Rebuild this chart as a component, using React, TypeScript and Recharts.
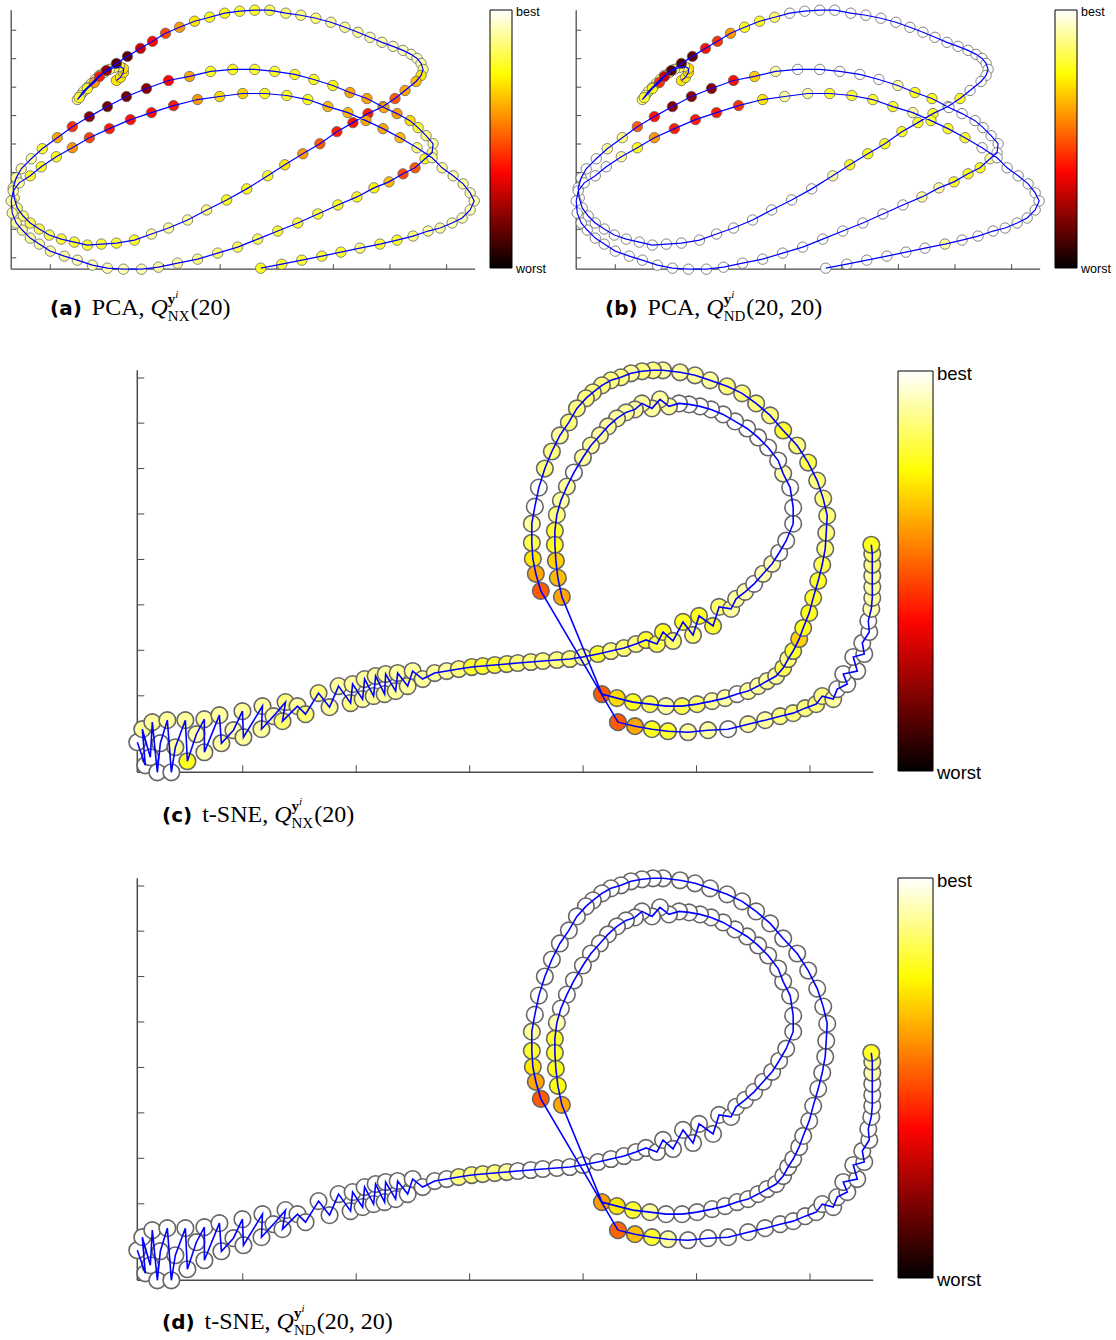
import React from "react";
import { ScatterChart, Scatter, XAxis, YAxis, BarChart, Bar } from "recharts";

// ─── PCA embedding (panels a, b): trajectory points, in plot units ───────────
const PCA_POINTS: [number, number][] = [
  [105, 188], [109, 191], [112, 196], [112, 200], [108, 202], [103, 201], [98, 199], [93, 196], [88, 193], [84, 189],
  [80, 185], [76, 181], [72, 177], [69, 173], [66, 169],
  [68, 171], [76, 180], [83, 186], [88, 192], [95, 198], [105, 205], [116, 212], [129, 220], [141, 227], [154, 235],
  [168, 241], [183, 247], [198, 251], [213, 255], [228, 257], [243, 258], [258, 258],
  [274, 255], [289, 253], [304, 250], [319, 246], [333, 241], [346, 236], [358, 231], [370, 226], [381, 222], [391, 218],
  [399, 214], [405, 210], [409, 205], [411, 199], [409, 193], [404, 187],
  [393, 178], [383, 170], [371, 162], [356, 155], [341, 146], [325, 137], [308, 125], [291, 115], [273, 104], [256, 93],
  [235, 80], [215, 69], [195, 59], [176, 49], [157, 41], [140, 35], [123, 29], [105, 26], [90, 25], [76, 24],
  [63, 27], [50, 30], [38, 34], [28, 40], [19, 46], [12, 53], [6, 61], [3, 71], [2, 81], [5, 91],
  [10, 100], [20, 110],
  [31, 120], [46, 131], [61, 142], [78, 152], [96, 162], [115, 172], [135, 180], [157, 188], [178, 192], [199, 197],
  [221, 199], [243, 199], [263, 197], [283, 194], [302, 189], [321, 183], [338, 176], [355, 170], [372, 161], [385, 155],
  [398, 148], [406, 141], [414, 133], [421, 125], [420, 116], [413, 110], [403, 101], [391, 95], [377, 87], [362, 81],
  [345, 72], [326, 64], [306, 55], [286, 46], [266, 38], [246, 30], [226, 22], [206, 16], [186, 10], [166, 6],
  [147, 2], [130, 0], [112, 0], [96, 1], [81, 4], [66, 9], [53, 13], [39, 18], [28, 25], [19, 31],
  [11, 39], [5, 46], [1, 56], [0, 68], [2, 78], [8, 86],
  [19, 93], [30, 102], [45, 112], [61, 121], [78, 131], [98, 140], [119, 149], [140, 156], [162, 163], [186, 169],
  [208, 172], [231, 175], [253, 175], [275, 173], [296, 169], [316, 162], [336, 156], [354, 148], [371, 140], [388, 131],
  [405, 121], [420, 111], [430, 101], [441, 93], [451, 85], [458, 76], [462, 68], [458, 59], [450, 51], [440, 46],
  [428, 41], [416, 38], [401, 33], [385, 29], [368, 25], [348, 21], [329, 17], [310, 13], [290, 9], [270, 5],
  [249, 1],
];

// quality per point, 0 = worst … 1 = best
const PCA_Q_NX = [
  0.72, 0.72, 0.7, 0.7, 0.8, 0.85, 0.85, 0.85, 0.85, 0.85, 0.85, 0.85, 0.85, 0.85, 0.85,
  0.8, 0.78, 0.6, 0.42, 0.2, 0.12, 0.15, 0.3, 0.38, 0.48, 0.6, 0.72, 0.78, 0.78, 0.8, 0.8, 0.82,
  0.85, 0.88, 0.88, 0.9, 0.9, 0.9, 0.92, 0.92, 0.93, 0.93, 0.93, 0.93, 0.92, 0.88, 0.72, 0.65,
  0.62, 0.5, 0.6, 0.42, 0.4, 0.42, 0.5, 0.6, 0.72, 0.78, 0.78, 0.78, 0.88, 0.9, 0.9, 0.9,
  0.8, 0.8, 0.8, 0.8, 0.8, 0.8, 0.82, 0.82, 0.82, 0.85, 0.85, 0.88, 0.88, 0.9, 0.9, 0.9,
  0.8, 0.62, 0.45, 0.2, 0.18, 0.18, 0.2, 0.38, 0.62, 0.78,
  0.78, 0.8, 0.8, 0.78, 0.78, 0.75, 0.62, 0.62, 0.62, 0.6,
  0.7, 0.8, 0.88, 0.9, 0.88, 0.78, 0.5, 0.48, 0.65, 0.75,
  0.78, 0.78, 0.8, 0.8, 0.8, 0.82, 0.82, 0.85, 0.88, 0.9,
  0.9, 0.92, 0.92, 0.92, 0.92, 0.92, 0.9, 0.9, 0.9, 0.9,
  0.9, 0.9, 0.9, 0.9, 0.9, 0.9,
  0.8, 0.78, 0.78, 0.6, 0.48, 0.42, 0.4, 0.4, 0.42, 0.6,
  0.7, 0.68, 0.78, 0.78, 0.78, 0.65, 0.65, 0.62, 0.62, 0.65,
  0.88, 0.9, 0.9, 0.9, 0.9, 0.92, 0.92, 0.92, 0.92, 0.92,
  0.9, 0.9, 0.88, 0.8, 0.8, 0.88, 0.8, 0.8, 0.8, 0.8,
  0.78,
];

const PCA_Q_ND = [
  0.72, 0.72, 0.7, 0.7, 0.85, 0.85, 0.85, 0.85, 0.85, 0.85, 0.85, 0.85, 0.85, 0.85, 0.85,
  0.8, 0.75, 0.45, 0.3, 0.12, 0.12, 0.15, 0.4, 0.45, 0.6, 0.78, 0.78, 0.85, 1, 1, 1, 1,
  1, 1, 1, 1, 1, 1, 1, 1, 1, 1, 1, 1, 1, 1, 1, 1,
  1, 0.78, 1, 0.78, 0.78, 0.78, 0.78, 0.78, 0.78, 0.9, 1, 1, 1, 1, 1, 1,
  1, 1, 1, 1, 1, 1, 1, 1, 1, 1, 1, 1, 1, 1, 1, 1,
  0.9, 0.88, 0.5, 0.4, 0.2, 0.2, 0.2, 0.4, 0.68, 0.9,
  1, 1, 1, 1, 1, 0.9, 0.78, 0.78, 1, 1,
  1, 1, 1, 1, 1, 0.9, 0.78, 0.78, 0.78, 0.9,
  0.9, 1, 1, 1, 1, 1, 1, 1, 1, 1,
  1, 1, 1, 1, 1, 1, 1, 1, 1, 1,
  1, 1, 1, 1, 1, 1,
  1, 1, 0.9, 0.78, 0.6, 0.42, 0.42, 0.42, 0.45, 0.72,
  0.9, 0.9, 0.8, 0.8, 0.8, 0.8, 0.9, 0.8, 0.8, 0.8,
  1, 1, 1, 1, 1, 1, 1, 1, 1, 1,
  1, 1, 1, 1, 0.9, 1, 1, 1, 1, 1,
  1,
];

// ─── t-SNE embedding (panels c, d) ───────────────────────────────────────────
const TSNE_POINTS: [number, number][] = [
  [0, 30], [8, 7], [5, 43], [13, 15], [15, 50], [20, 0], [23, 29], [30, 52], [34, 0], [38, 25],
  [48, 52], [50, 11], [59, 38], [67, 53], [67, 20], [82, 57], [84, 29], [96, 42], [105, 61], [106, 35],
  [125, 66], [124, 43], [136, 56], [148, 70], [145, 51], [160, 66], [168, 58], [181, 79], [192, 65], [201, 86],
  [213, 69], [215, 88], [225, 73], [227, 93], [236, 76], [238, 96], [247, 78], [248, 98], [258, 81], [260, 99],
  [270, 86], [275, 101], [285, 93], [297, 99], [309, 101], [321, 103], [334, 105], [345, 106], [357, 107], [369, 108],
  [380, 109], [393, 110], [405, 111], [419, 112], [432, 113], [445, 115], [460, 118], [473, 121], [486, 124], [498, 128],
  [508, 132], [519, 128], [525, 140], [535, 131], [545, 150], [555, 137], [561, 156], [575, 146], [581, 165], [593, 163],
  [598, 173], [607, 180], [616, 188], [625, 198], [634, 208], [641, 219], [648, 231], [655, 248], [655, 264], [652, 284],
  [645, 298], [640, 311], [630, 324], [620, 334], [609, 343], [597, 350], [585, 357], [573, 362], [562, 365], [551, 367],
  [541, 368], [531, 365], [522, 372], [514, 363], [504, 368], [497, 362], [488, 359], [479, 353], [470, 345], [462, 336],
  [453, 326], [445, 314], [436, 299], [429, 285], [423, 271], [419, 257], [417, 241], [417, 227], [418, 211], [420, 194],
  [424, 175], [464, 78], [479, 74], [495, 70], [512, 68], [528, 66], [544, 66], [559, 68], [574, 71], [587, 74],
  [599, 78], [610, 81], [620, 86], [629, 91], [638, 96], [645, 104], [650, 113], [655, 121], [661, 133], [665, 144],
  [671, 159], [675, 174], [680, 191], [684, 207], [687, 223], [688, 239], [689, 256], [685, 273], [679, 291], [670, 309],
  [659, 326], [645, 341], [632, 356], [618, 368], [604, 378], [589, 385], [572, 391], [557, 396], [542, 399], [525, 401],
  [515, 401], [504, 400], [493, 398], [483, 394], [473, 391], [464, 386], [455, 379], [448, 373], [439, 363], [431, 349],
  [422, 336], [414, 320], [407, 303], [401, 284], [397, 265], [394, 248], [394, 229], [395, 213], [398, 198], [403, 181],
  [480, 50], [497, 46], [514, 43], [530, 41], [550, 40], [570, 42], [590, 43], [610, 48], [627, 52], [642, 56],
  [655, 59], [667, 64], [678, 68], [684, 76], [695, 73], [699, 83], [709, 88], [705, 98], [719, 101], [715, 115],
  [726, 118], [724, 129], [731, 140], [730, 151], [733, 163], [734, 174], [734, 185], [734, 196], [734, 207], [734, 218],
  [733, 227],
];

const TSNE_Q_NX = [
  1, 1, 0.9, 1, 0.9, 1, 1, 0.9, 1, 0.9,
  0.9, 0.78, 0.92, 0.9, 0.92, 0.9, 0.9, 0.92, 0.9, 0.9,
  0.9, 0.9, 0.92, 0.88, 0.85, 0.9, 0.85, 0.88, 0.9, 0.9,
  0.88, 0.9, 0.9, 0.9, 0.9, 0.9, 0.9, 0.9, 0.9, 0.9,
  0.9, 0.9, 0.9, 0.9, 0.9, 0.88, 0.8, 0.8, 0.8, 0.82,
  0.88, 0.88, 0.88, 0.88, 0.88, 0.9, 0.8, 0.88, 0.85, 0.88,
  0.8, 0.82, 0.78, 0.85, 0.78, 0.85, 0.78, 0.8, 0.85, 0.9,
  0.9, 0.92, 1, 0.92, 0.92, 1, 1, 1, 1, 1,
  0.92, 1, 1, 1, 1, 1, 1, 1, 1, 1,
  1, 0.9, 0.9, 0.9, 0.9, 0.9, 0.9, 0.9, 0.9, 0.9,
  0.9, 0.9, 1, 0.9, 0.9, 0.88, 0.8, 0.78, 0.68, 0.65,
  0.62, 0.5, 0.7, 0.78, 0.82, 0.9, 0.82, 0.85, 0.9, 0.9,
  1, 0.9, 0.9, 0.9, 0.9, 0.82, 0.88, 0.8, 0.68, 0.78,
  0.78, 0.8, 0.8, 0.82, 0.88, 0.88, 0.88, 0.88, 0.88, 0.82,
  0.88, 0.8, 0.88, 0.88, 0.88, 0.88, 0.9, 0.9, 0.9, 0.9,
  0.88, 0.88, 0.9, 0.88, 0.88, 0.88, 0.88, 0.88, 0.88, 0.88,
  0.9, 0.88, 0.88, 1, 1, 0.9, 0.82, 0.72, 0.62, 0.5,
  0.5, 0.62, 0.78, 0.8, 0.9, 0.9, 1, 0.9, 0.9, 0.88,
  0.88, 0.88, 0.88, 0.88, 0.9, 1, 1, 1, 1, 1,
  1, 1, 1, 1, 0.92, 0.9, 0.9, 0.9, 0.88, 0.85,
  0.78,
];

const TSNE_Q_ND = [
  1, 1, 1, 1, 1, 1, 1, 1, 1, 1,
  1, 1, 1, 1, 1, 1, 1, 1, 1, 1,
  1, 1, 1, 1, 1, 1, 1, 1, 1, 1,
  1, 1, 1, 1, 1, 1, 1, 1, 1, 1,
  1, 1, 1, 1, 1, 0.88, 0.88, 0.88, 0.88, 0.9,
  1, 1, 1, 1, 1, 1, 1, 1, 1, 1,
  1, 1, 1, 1, 1, 1, 1, 1, 1, 1,
  1, 1, 1, 1, 1, 1, 1, 1, 1, 1,
  1, 1, 1, 1, 1, 1, 1, 1, 1, 1,
  1, 1, 1, 1, 1, 1, 1, 1, 1, 1,
  1, 1, 1, 1, 1, 0.92, 0.8, 0.8, 0.78, 0.76,
  0.62, 0.6, 0.72, 0.8, 0.9, 1, 1, 1, 1, 1,
  1, 1, 1, 1, 1, 1, 1, 1, 1, 1,
  1, 1, 1, 1, 1, 1, 1, 1, 1, 1,
  1, 1, 1, 1, 1, 1, 1, 1, 1, 1,
  1, 1, 1, 1, 1, 1, 1, 1, 1, 1,
  1, 1, 1, 1, 1, 0.9, 0.8, 0.72, 0.62, 0.5,
  0.52, 0.65, 0.8, 0.9, 1, 1, 1, 1, 1, 1,
  1, 1, 1, 1, 1, 1, 1, 1, 1, 1,
  1, 1, 1, 1, 1, 1, 1, 1, 0.92, 0.9,
  0.8,
];

// unlabeled tick positions
const PCA_X_TICKS = [39, 95.5, 152, 208.5, 265, 321.5, 378, 434.5];
const PCA_Y_TICKS = [11.3, 39.7, 68, 96.3, 124.7, 153, 181.3, 209.7, 238];
const TSNE_X_TICKS = [105.3, 218.6, 331.9, 445.2, 558.5, 671.8];
const TSNE_Y_TICKS = [31, 76.3, 121.7, 167, 212.3, 257.7, 303, 348.3, 393.3];

const COLORBAR = [{ name: "quality", v: 1 }];

// matlab "hot" colormap, 64 levels
const hot = (q: number) => {
  const t = Math.round(q * 63) / 63;
  const c = (v: number) => Math.round(255 * Math.max(0, Math.min(1, v)));
  return `rgb(${c(t / 0.375)},${c((t - 0.375) / 0.375)},${c((t - 0.75) / 0.25)})`;
};

const AXIS = "#4a4a4a";
const noLabel = () => "";

function Panel({ left, top, width, height, points, quality, xTicks, yTicks, r, edgeWidth, lineWidth, tickSize, axisWidth }: any) {
  const data = points.map(([x, y]: [number, number], i: number) => ({ x, y, q: quality[i] }));
  const m = r + 4;
  const dot = (p: any) => {
    const q = p.payload ? p.payload.q : p.q;
    return <circle cx={p.cx} cy={p.cy} r={r} fill={hot(q)} stroke="#666" strokeWidth={edgeWidth} />;
  };
  return (
    <div style={{ position: "absolute", left: left - m, top: top - m }}>
      <ScatterChart
        width={width + 2 * m}
        height={height + 2 * m}
        margin={{ top: m, right: m, bottom: m - 1, left: m - 1 }}
      >
        <XAxis
          type="number" dataKey="x" domain={[0, width]} ticks={xTicks} interval={0}
          height={1} mirror tickFormatter={noLabel} tick={{ fontSize: 1 }} tickSize={tickSize}
          axisLine={{ stroke: AXIS, strokeWidth: axisWidth }}
          tickLine={{ stroke: AXIS, strokeWidth: 1 }}
        />
        <YAxis
          type="number" dataKey="y" domain={[0, height]} ticks={yTicks} interval={0}
          width={1} mirror tickFormatter={noLabel} tick={{ fontSize: 1 }} tickSize={tickSize}
          axisLine={{ stroke: AXIS, strokeWidth: axisWidth }}
          tickLine={{ stroke: AXIS, strokeWidth: 1 }}
        />
        <Scatter data={data} isAnimationActive={false} shape={dot} />
        <Scatter
          data={data} isAnimationActive={false}
          line={{ stroke: "#0000ff", strokeWidth: lineWidth }} lineType="joint"
          shape={() => <g />}
        />
      </ScatterChart>
    </div>
  );
}

function ColorBar({ id, left, top, width, height, fontSize }: any) {
  const label: React.CSSProperties = {
    position: "absolute", left: width + 4, fontFamily: "'Liberation Sans', Arial, sans-serif",
    fontSize, lineHeight: `${fontSize}px`, color: "#000", whiteSpace: "nowrap",
  };
  return (
    <div style={{ position: "absolute", left, top, width, height }}>
      <div style={{ position: "absolute", left: -1, top: -1 }}>
        <BarChart
          width={width + 2} height={height + 2} data={COLORBAR}
          margin={{ top: 1, right: 1, bottom: 1, left: 1 }} barCategoryGap={0}
        >
          <defs>
            <linearGradient id={id} x1="0" y1="1" x2="0" y2="0">
              {[0, 0.375, 0.75, 1].map((s) => (
                <stop key={s} offset={s} stopColor={hot(s)} />
              ))}
            </linearGradient>
          </defs>
          <XAxis dataKey="name" hide />
          <YAxis hide domain={[0, 1]} />
          <Bar dataKey="v" fill={`url(#${id})`} stroke="#000" strokeWidth={1} isAnimationActive={false} />
        </BarChart>
      </div>
      <div style={{ ...label, top: -0.846 * fontSize + fontSize * 0.5 }}>best</div>
      <div style={{ ...label, top: height - 0.846 * fontSize + fontSize * 0.45 }}>worst</div>
    </div>
  );
}

function Caption({ left, top, tag, method, sub, args }: any) {
  return (
    <div
      style={{
        position: "absolute", left, top, fontFamily: "'Liberation Serif', 'DejaVu Serif', serif",
        fontSize: 24, lineHeight: "30px", whiteSpace: "nowrap", color: "#000",
      }}
    >
      <span style={{ fontFamily: "'DejaVu Sans', sans-serif", fontWeight: 700, fontSize: 20 }}>({tag})</span>
      <span style={{ marginLeft: 10 }}>{method}, </span>
      <i>Q</i>
      <span
        style={{
          display: "inline-flex", flexDirection: "column", fontSize: 15, lineHeight: "16px",
          position: "relative", top: -11, marginRight: 1,
        }}
      >
        <span>
          <b>y</b>
          <i style={{ fontSize: 11, position: "relative", top: -6 }}>i</i>
        </span>
        <span>{sub}</span>
      </span>
      ({args})
    </div>
  );
}

export default function App() {
  const pca = {
    width: 463, height: 258, points: PCA_POINTS, xTicks: PCA_X_TICKS, yTicks: PCA_Y_TICKS,
    r: 5.2, edgeWidth: 0.8, lineWidth: 1.2, tickSize: 5, axisWidth: 1.3,
  };
  const tsne = {
    width: 735, height: 401, points: TSNE_POINTS, xTicks: TSNE_X_TICKS, yTicks: TSNE_Y_TICKS,
    r: 8.3, edgeWidth: 1.6, lineWidth: 1.6, tickSize: 7, axisWidth: 1.5,
  };
  return (
    <div style={{ position: "absolute", left: 0, top: 0, width: 1116, height: 1340, background: "#fff", overflow: "hidden" }}>
      <Panel {...pca} left={12} top={10} quality={PCA_Q_NX} />
      <ColorBar id="cbA" left={490} top={10} width={22} height={258} fontSize={12.5} />
      <Caption left={50} top={292} tag="a" method="PCA" sub="NX" args="20" />

      <Panel {...pca} left={577} top={10} quality={PCA_Q_ND} />
      <ColorBar id="cbB" left={1055} top={10} width={22} height={258} fontSize={12.5} />
      <Caption left={605} top={292} tag="b" method="PCA" sub="ND" args="20, 20" />

      <Panel {...tsne} left={138} top={370} quality={TSNE_Q_NX} />
      <ColorBar id="cbC" left={898} top={371} width={35} height={400} fontSize={18.5} />
      <Caption left={162} top={799} tag="c" method="t-SNE" sub="NX" args="20" />

      <Panel {...tsne} left={138} top={878} quality={TSNE_Q_ND} />
      <ColorBar id="cbD" left={898} top={878} width={35} height={400} fontSize={18.5} />
      <Caption left={162} top={1306} tag="d" method="t-SNE" sub="ND" args="20, 20" />
    </div>
  );
}
